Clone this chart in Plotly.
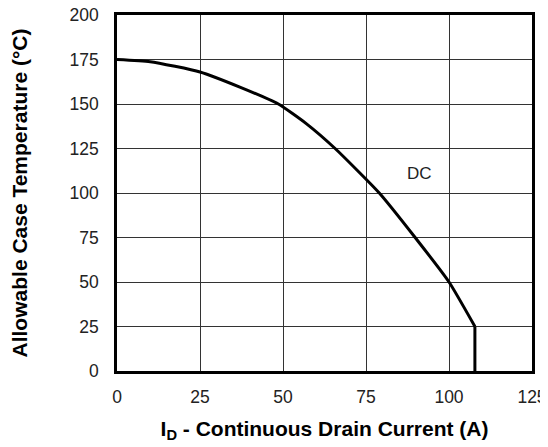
import plotly.graph_objects as go

current_a = [0, 10, 25, 37, 48.6, 57, 65.7, 79, 89.8, 100, 107.8]
case_temp_c = [175, 173.8, 168, 159.5, 150, 139, 125, 100, 75, 50, 25]
cutoff_a = [107.8, 107.8]
cutoff_temp_c = [25, 0]

x_ticks = [0, 25, 50, 75, 100, 125]
y_ticks = [0, 25, 50, 75, 100, 125, 150, 175, 200]

FONT = "Liberation Sans"

fig = go.Figure()
fig.add_trace(go.Scatter(x=current_a, y=case_temp_c, mode="lines",
                         line=dict(color="black", width=3, shape="spline", smoothing=0.5),
                         showlegend=False, hoverinfo="skip"))
fig.add_trace(go.Scatter(x=cutoff_a, y=cutoff_temp_c, mode="lines",
                         line=dict(color="black", width=3),
                         showlegend=False, hoverinfo="skip"))

fig.add_annotation(x=91, y=111, text="DC", showarrow=False,
                   font=dict(family=FONT, size=17, color="#222"))

axis_common = dict(showgrid=True, gridcolor="#333", gridwidth=1,
                   showline=True, linecolor="black", linewidth=2.5, mirror=True,
                   ticks="", zeroline=False, automargin=False,
                   ticklabeloverflow="allow",
                   tickfont=dict(family=FONT, size=17.5, color="#222"))

fig.update_xaxes(range=[0, 125], tickvals=x_ticks, ticklabelstandoff=8, **axis_common)
fig.update_xaxes(title=dict(text="<b>I<sub>D</sub> - Continuous Drain Current (A)</b>",
                            font=dict(family=FONT, size=21, color="black"),
                            standoff=16))
fig.update_yaxes(range=[0, 200], tickvals=y_ticks, ticklabelstandoff=12, **axis_common)
fig.update_yaxes(title=dict(text="<b>Allowable Case Temperature (°C)</b>",
                            font=dict(family=FONT, size=21, color="black"),
                            standoff=42))

fig.update_layout(width=540, height=439, margin=dict(l=109, r=16, t=7, b=76),
                  font=dict(family=FONT, size=17, color="#222"),
                  plot_bgcolor="white", paper_bgcolor="white")

fig.write_html("out.html")
